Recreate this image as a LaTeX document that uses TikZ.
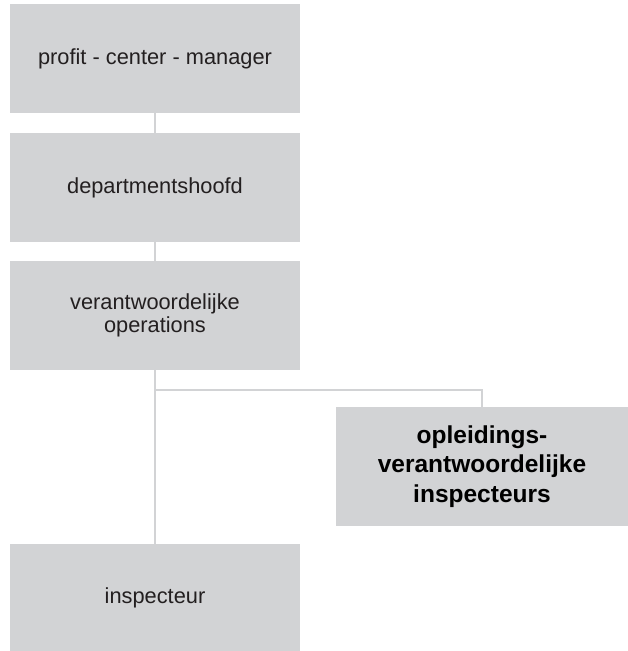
\documentclass[tikz,border=0pt]{standalone}
\usepackage{fontspec}
\setmainfont{Liberation Sans}
\usepackage{xcolor}
\definecolor{boxgray}{RGB}{210,211,213}
\definecolor{textgray}{RGB}{35,31,32}

\begin{document}
\begin{tikzpicture}[x=1pt, y=-1pt,
    box/.style={fill=boxgray, minimum width=290pt, minimum height=109pt,
        inner sep=0pt, align=center, text=textgray,
        font=\fontsize{21.8}{22.5}\selectfont},
    boldbox/.style={box, minimum width=292pt, minimum height=119pt,
        text=black, font=\fontsize{24.5}{29.5}\selectfont\bfseries},
    link/.style={draw=boxgray, line width=2.6pt}]
    % Frame
    \useasboundingbox (0,0) rectangle (628,651);

    % Boxes of the chain
    \node[box] (pcm) at (155,58.5) {profit - center - manager};
    \node[box] (dh) at (155,187.5) {departmentshoofd};
    \node[box] (ops) at (155,315.5) {verantwoordelijke\\operations};
    \node[box, minimum height=107pt] (insp) at (155,597.5) {inspecteur};

    % Side box
    \node[boldbox] (opl) at (482,466.5) {opleidings-\\verantwoordelijke\\inspecteurs};

    % Connectors
    \coordinate (branch) at (155,390);
    \draw[link] (pcm.south) -- (dh.north);
    \draw[link] (dh.south) -- (ops.north);
    \draw[link] (ops.south) -- (insp.north);
    \draw[link] (branch) -| (opl.north);
\end{tikzpicture}
\end{document}
